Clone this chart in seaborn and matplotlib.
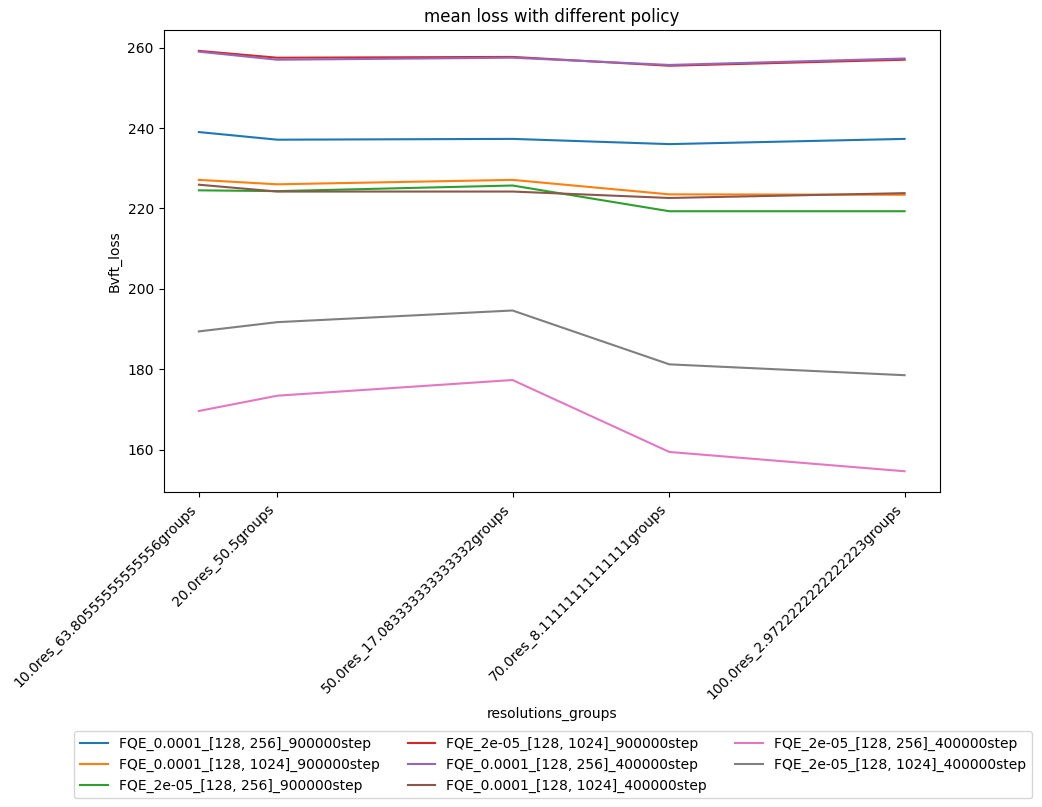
import pandas as pd
import matplotlib
matplotlib.use('Agg')
import matplotlib.pyplot as plt
import seaborn as sns

# resolution (x position) and its group label
resolutions = [10, 20, 50, 70, 100]
tick_labels = [
    '10.0res_63.80555555555556groups',
    '20.0res_50.5groups',
    '50.0res_17.083333333333332groups',
    '70.0res_8.11111111111111groups',
    '100.0res_2.9722222222222223groups',
]

policies = [
    'FQE_0.0001_[128, 256]_900000step',
    'FQE_0.0001_[128, 1024]_900000step',
    'FQE_2e-05_[128, 256]_900000step',
    'FQE_2e-05_[128, 1024]_900000step',
    'FQE_0.0001_[128, 256]_400000step',
    'FQE_0.0001_[128, 1024]_400000step',
    'FQE_2e-05_[128, 256]_400000step',
    'FQE_2e-05_[128, 1024]_400000step',
]

loss_0001_256_900k = [239.0, 237.1, 237.3, 236.0, 237.3]
loss_0001_1024_900k = [227.1, 226.0, 227.1, 223.5, 223.4]
loss_2e5_256_900k = [224.5, 224.3, 225.7, 219.3, 219.3]
loss_2e5_1024_900k = [259.2, 257.5, 257.7, 255.5, 257.0]
loss_0001_256_400k = [259.0, 257.0, 257.5, 255.7, 257.3]
loss_0001_1024_400k = [225.9, 224.2, 224.2, 222.6, 223.8]
loss_2e5_256_400k = [169.6, 173.4, 177.3, 159.4, 154.6]
loss_2e5_1024_400k = [189.4, 191.7, 194.6, 181.2, 178.5]

all_losses = [loss_0001_256_900k, loss_0001_1024_900k, loss_2e5_256_900k,
              loss_2e5_1024_900k, loss_0001_256_400k, loss_0001_1024_400k,
              loss_2e5_256_400k, loss_2e5_1024_400k]

# long form table for seaborn
rows = []
for name, losses in zip(policies, all_losses):
    for res, val in zip(resolutions, losses):
        rows.append({'resolution': res, 'Bvft_loss': val, 'policy': name})
df = pd.DataFrame(rows)

fig, ax = plt.subplots(figsize=(10.42, 8.07), dpi=100)
fig.subplots_adjust(left=0.157, right=0.902, top=0.963, bottom=0.390)

sns.lineplot(data=df, x='resolution', y='Bvft_loss', hue='policy',
             hue_order=policies, palette=sns.color_palette('tab10', 8), ax=ax)

ax.set_xticks(resolutions)
ax.set_xticklabels(tick_labels, rotation=45, ha='right')
ax.set_xlabel('resolutions_groups')
ax.set_ylabel('Bvft_loss')
ax.set_title('mean loss with different policy')

ax.legend_.remove()
handles, labels = ax.get_legend_handles_labels()
fig.legend(handles, labels, loc='upper center', ncol=3,
           bbox_to_anchor=(553 / 1042, 1 - 724 / 807))

plt.savefig('out.png', dpi=100)
